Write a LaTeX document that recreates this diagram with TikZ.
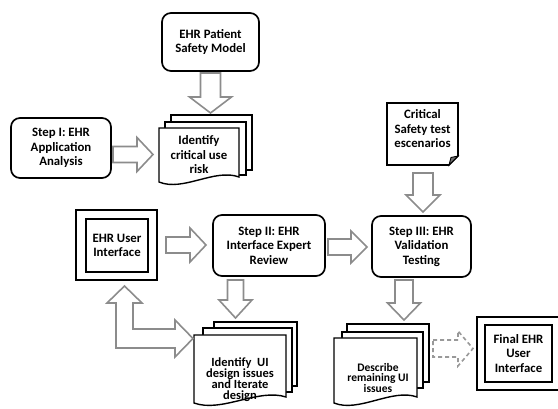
\documentclass[tikz,border=0pt]{standalone}
\usepackage{fontspec}
\setmainfont{Carlito}
\usetikzlibrary{calc}
\newcommand{\barrow}[6][]{%
  \path let \p1=(#2), \p2=(#3) in \pgfextra{%
    \pgfmathsetmacro{\bAng}{atan2(\y2-\y1,\x2-\x1)}%
    \pgfmathsetmacro{\bLen}{veclen(\x2-\x1,\y2-\y1)}%
    \xdef\bAngG{\bAng}\xdef\bLenG{\bLen}};
  \draw[barrowstyle,#1,shift={(#2)},rotate=\bAngG]
    (0pt,#4pt) -- ({\bLenG pt-#6pt},#4pt) -- ({\bLenG pt-#6pt},#5pt) -- (\bLenG pt,0pt)
    -- ({\bLenG pt-#6pt},-#5pt) -- ({\bLenG pt-#6pt},-#4pt) -- (0pt,-#4pt) -- cycle;
}
\newcommand{\docfront}[5]{%
  \draw[page] (#1,#4) -- (#1,#2) -- (#3,#2) -- (#3,#5)
    .. controls ({#3-0.3*(#3-#1)},{#5-9}) and ({#1+0.3*(#3-#1)},{#4+10}) .. (#1,#4) -- cycle;}
\newcommand{\docback}[4]{\draw[page] (#1,#2) rectangle (#3,#4);}
\begin{document}
\begin{tikzpicture}[x=1pt,y=-1pt,
  txt/.style={align=center, inner sep=0pt, outer sep=0pt, font=\bfseries\fontsize{12.8}{14.5}\selectfont},
  box/.style={txt, draw, line width=1.7pt, rounded corners=9pt},
  sq/.style={txt, draw, line width=1.7pt},
  barrowstyle/.style={draw=black!45, fill=white, line width=1.6pt, line join=miter},
  page/.style={draw, fill=white, line width=1.4pt, line join=miter}
]
\useasboundingbox (0,0) rectangle (558,409);
\clip (0,0) rectangle (558,409);

% boxes
\node[box, minimum width=97pt, minimum height=58pt] (safety) at (210.5,42) {EHR Patient\\Safety Model};
\node[box, minimum width=100pt, minimum height=60pt] (stepI) at (61,148) {Step I: EHR\\Application\\Analysis};
\node[box, minimum width=112pt, minimum height=61pt] (stepII) at (269,245.5) {Step II: EHR\\Interface Expert\\Review};
\node[box, minimum width=99pt, minimum height=61pt] (stepIII) at (421.5,246.5) {Step III: EHR\\Validation\\Testing};
\node[sq, minimum width=81pt, minimum height=70pt] (ehruiout) at (116.5,245) {};
\node[sq, minimum width=62pt, minimum height=53pt] (ehrui) at (117,245.5) {EHR User\\Interface};
\node[sq, minimum width=84pt, minimum height=73pt] (finalout) at (519,353.5) {};
\node[sq, minimum width=67pt, minimum height=57pt] (final) at (518.5,353.5) {Final EHR\\User\\Interface};

% note
\draw[line width=1.7pt, line join=miter] (387,103) -- (458,103) -- (458,156) -- (449,165) -- (387,165) -- cycle;
\draw[line width=0.9pt, fill=black!55] (449,165) -- (451,157.5) -- (458,156) -- cycle;
\node[txt] (note) at (422.5,129) {Critical\\Safety test\\escenarios};

% multidoc: critical use risk
\docback{171}{115}{252}{170}
\docback{165}{122}{246}{175}
\docfront{159}{128}{239}{182}{177}
\node[txt] (crit) at (199,155) {Identify\\critical use\\risk};

% multidoc: UI design issues
\docback{214}{322}{297}{386}
\docback{203}{328}{292}{392}
\docfront{194}{335}{286}{403}{397}
\node[txt, font=\bfseries\fontsize{12.5}{11}\selectfont] (uidoc) at (240,379.5) {Identify\ \ UI\\design issues\\and Iterate\\design};

% multidoc: describe remaining
\docback{347}{324}{429}{382}
\docback{342}{332}{423}{388}
\docfront{334}{338}{417}{403}{397}
\node[txt, font=\bfseries\fontsize{11.5}{10}\selectfont] (desc) at (378,378) {Describe\\remaining UI\\issues};

% block arrows
\coordinate (a1s) at ($(safety.south)+(0,2)$);
\coordinate (a1e) at (210.5,113);
\barrow{a1s}{a1e}{10}{21}{16}
\coordinate (a2s) at ($(stepI.east)+(2,6.5)$);
\coordinate (a2e) at (153,154.5);
\barrow{a2s}{a2e}{8}{17}{16}
\coordinate (a3s) at (423,173);
\coordinate (a3e) at ($(stepIII.north)+(1.5,-4)$);
\barrow{a3s}{a3e}{10}{17}{17}
\coordinate (a4s) at ($(stepII.east)+(3,1.5)$);
\coordinate (a4e) at ($(stepIII.west)+(-5,0.5)$);
\barrow{a4s}{a4e}{8}{16}{16}
\coordinate (a5s) at ($(ehruiout.east)+(9,0)$);
\coordinate (a5e) at ($(stepII.west)+(-7,-0.5)$);
\barrow{a5s}{a5e}{8}{17}{16}
\coordinate (a6s) at ($(stepII.south)+(-33.5,4)$);
\coordinate (a6e) at (235.5,318);
\barrow{a6s}{a6e}{8}{16.5}{18}
\coordinate (a7s) at ($(stepIII.south)+(-17.5,3)$);
\coordinate (a7e) at (404,320);
\barrow{a7s}{a7e}{9}{16.5}{17}
\coordinate (a8s) at (433,348.5);
\coordinate (a8e) at ($(finalout.west)+(-4,-5)$);
\barrow[dashed, dash pattern=on 4pt off 3pt, draw=black!40]{a8s}{a8e}{8.5}{17.5}{15}

% L-shaped double arrow between EHR UI and UI design doc
\draw[barrowstyle] (116,303) -- (107,303) -- (124.5,286) -- (142,303) -- (133,303) -- (133,329)
  -- (175,329) -- (175,320) -- (193,338.5) -- (175,357) -- (175,348) -- (116,348) -- cycle;
\end{tikzpicture}
\end{document}
